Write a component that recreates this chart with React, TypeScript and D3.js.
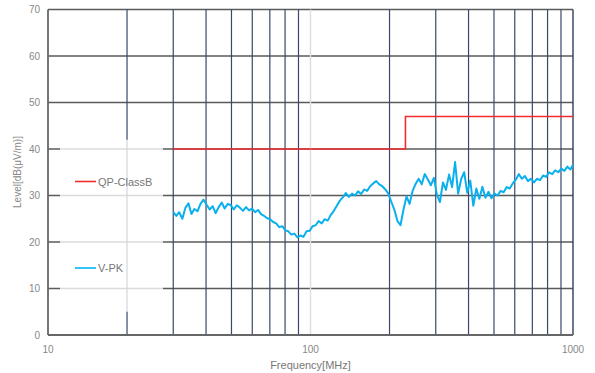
import React from 'react';
import * as d3 from 'd3';

// V-PK sweep (MHz / dBµV/m)
const peakFreq = [
  30, 30.8, 31.6, 32.5, 33.4, 34.3, 35.2, 36.1, 37.1, 38.1, 39.1, 40.2, 41.3, 42.4, 43.5, 44.7, 45.9, 47.1, 48.4, 49.7,
  51, 52.4, 53.8, 55.3, 56.8, 58.3, 59.9, 61.5, 63.1, 64.8, 66.6, 68.4, 70.2, 72.1, 74, 76, 78.1, 80.2, 82.3, 84.5,
  86.8, 89.2, 91.6, 94, 96.6, 99.2, 101.8, 104.6, 107.4, 110.3, 113.3, 116.3, 119.4, 122.7, 126, 129.4, 132.8, 136.4, 140.1, 143.9,
  147.8, 151.7, 155.8, 160, 164.3, 168.8, 173.3, 178, 182.8, 187.7, 192.8, 198, 203.3, 208.8, 214.4, 220.2, 226.1, 232.2, 238.5, 244.9,
  251.5, 258.3, 265.3, 272.4, 279.8, 287.3, 295.1, 303, 311.2, 319.6, 328.2, 337.1, 346.2, 355.5, 365.1, 374.9, 385, 395.4, 406.1, 417,
  428.3, 439.8, 451.7, 463.9, 476.4, 489.2, 502.4, 516, 529.9, 544.2, 558.9, 573.9, 589.4, 605.3, 621.6, 638.4, 655.6, 673.3, 691.4, 710.1,
  729.2, 748.9, 769.1, 789.9, 811.2, 833.1, 855.5, 878.6, 902.3, 926.7, 951.7, 977.4, 1000,
];
const peakLevel = [
  26.5, 25.6, 26.4, 25.0, 27.4, 28.3, 26.0, 27.1, 26.6, 28.2, 29.1, 28.0, 27.0, 27.7, 26.2, 27.5, 28.5, 27.2, 28.2, 27.9,
  27.0, 27.9, 27.4, 26.7, 27.5, 26.8, 27.2, 26.4, 26.9, 26.0, 25.6, 25.1, 24.9, 24.3, 24.0, 23.2, 23.4, 22.5, 22.3, 21.6,
  21.8, 21.0, 21.4, 21.1, 22.3, 22.4, 23.4, 23.6, 24.5, 24.0, 24.9, 24.6, 25.8, 26.7, 27.8, 28.9, 29.6, 30.5, 29.7, 30.4,
  30.0, 30.9, 30.3, 31.3, 31.0, 32.0, 32.6, 33.1, 32.4, 32.0, 31.3, 30.4, 28.6, 26.9, 24.5, 23.6, 27.0, 29.8, 28.2, 31.0,
  32.5, 33.6, 32.4, 34.6, 33.5, 32.2, 33.8, 30.2, 28.6, 32.8, 31.2, 34.5, 31.8, 37.2, 30.4, 33.5, 35.0, 30.6, 33.2, 27.8,
  31.5, 29.3, 31.9, 29.5, 30.8, 29.4, 30.4, 30.0, 31.0, 30.7, 31.8, 31.5, 32.6, 33.4, 34.6, 33.6, 34.2, 33.1, 33.6, 32.8,
  33.6, 33.3, 34.3, 34.0, 35.0, 34.6, 35.4, 35.0, 35.8, 35.3, 36.2, 35.6, 36.6,
];

// QP Class B limit
const limitFreq = [30, 230, 230, 1000];
const limitLevel = [40, 40, 47, 47];

const gridFreqs = [20, 30, 40, 50, 60, 70, 80, 90, 200, 300, 400, 500, 600, 700, 800, 900];
const levelTicks = [0, 10, 20, 30, 40, 50, 60, 70];
const freqTicks = [10, 100, 1000];

const W = 595;
const H = 373;
const font = '"Liberation Sans", Arial, sans-serif';

export default function App() {
  const x = d3.scaleLog().domain([10, 1000]).range([48, 573]);
  const y = d3.scaleLinear().domain([0, 70]).range([335, 9.5]);

  const line = d3
    .line<[number, number]>()
    .x(d => x(d[0]))
    .y(d => y(d[1]));

  const peak = peakFreq.map((f, i) => [f, peakLevel[i]] as [number, number]);
  const limit = limitFreq.map((f, i) => [f, limitLevel[i]] as [number, number]);

  const x0 = x(10);
  const x1 = x(1000);

  return (
    <svg width={W} height={H} style={{ position: 'absolute', left: 0, top: 0 }} fontFamily={font}>
      <rect width={W} height={H} fill="#fff" />

      {/* horizontal grid */}
      {levelTicks.slice(1).map(t => (
        <line key={'h' + t} x1={x0} x2={x1} y1={y(t)} y2={y(t)} stroke="#5a5a5a" strokeWidth={1.6} />
      ))}

      {/* vertical grid */}
      {gridFreqs.map(f => (
        <line key={'v' + f} x1={x(f)} x2={x(f)} y1={y(70)} y2={y(0)} stroke="#3a4768" strokeWidth={1.2} />
      ))}
      <line x1={x(100)} x2={x(100)} y1={y(70)} y2={y(0)} stroke="#dedede" strokeWidth={1.4} />
      <line x1={x1} x2={x1} y1={y(70)} y2={y(0)} stroke="#2f3d5e" strokeWidth={1.4} />

      {/* legend background */}
      <rect x={60} y={y(42)} width={103} height={y(5) - y(42)} fill="#fff" opacity={0.78} />

      {/* axes */}
      <line x1={x0} x2={x0} y1={y(70)} y2={y(0)} stroke="#666" strokeWidth={1.8} />
      <line x1={x0} x2={x1} y1={y(0)} y2={y(0)} stroke="#666" strokeWidth={1.8} />

      {levelTicks.map(t => (
        <text key={'yt' + t} x={40} y={y(t) + 3.5} textAnchor="end" fontSize={10} fill="#888">
          {t}
        </text>
      ))}
      {freqTicks.map(f => (
        <text key={'xt' + f} x={x(f)} y={353} textAnchor="middle" fontSize={10} fill="#888">
          {f}
        </text>
      ))}
      <text x={x(100)} y={369} textAnchor="middle" fontSize={11} fill="#777">
        Frequency[MHz]
      </text>
      <text transform={`translate(21,172) rotate(-90)`} textAnchor="middle" fontSize={10} fill="#888">
        Level[dB(μV/m)]
      </text>

      {/* data */}
      <path d={line(limit) ?? ''} fill="none" stroke="#f22c2c" strokeWidth={1.6} />
      <path d={line(peak) ?? ''} fill="none" stroke="#0ab0ee" strokeWidth={2} strokeLinejoin="round" />

      {/* legend */}
      <line x1={75} x2={96} y1={181.5} y2={181.5} stroke="#f22c2c" strokeWidth={1.6} />
      <text x={98} y={185.5} fontSize={11} fill="#777">QP-ClassB</text>
      <line x1={75} x2={96} y1={268} y2={268} stroke="#33c3f5" strokeWidth={2} />
      <text x={98} y={272} fontSize={11} fill="#777">V-PK</text>
    </svg>
  );
}
